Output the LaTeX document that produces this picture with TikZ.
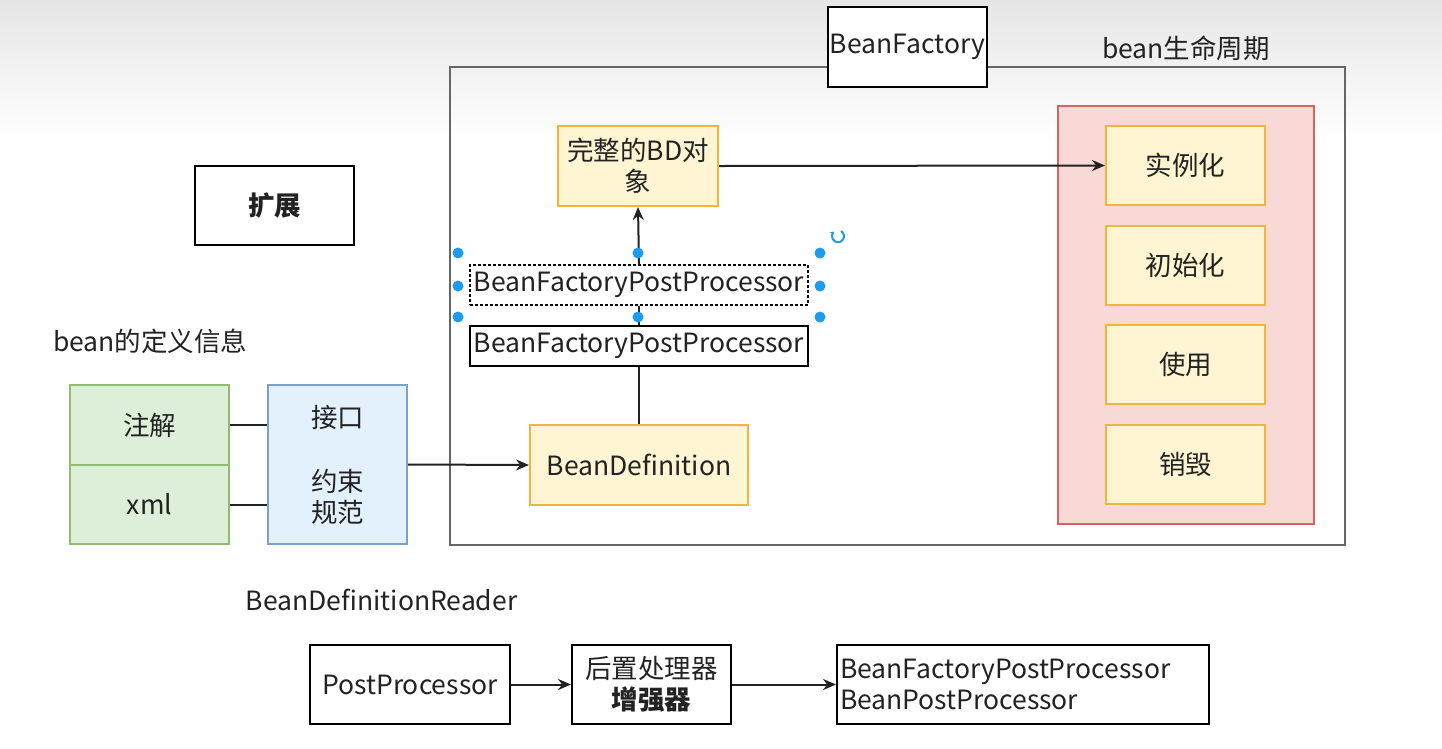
\documentclass[tikz,border=0pt]{standalone}
\usepackage{fontspec}
\setmainfont{Noto Sans CJK SC}
\usetikzlibrary{arrows.meta}
\definecolor{txt}{HTML}{222222}
\definecolor{yfill}{HTML}{FFF5D2}
\definecolor{ydraw}{HTML}{F2B43A}
\definecolor{pfill}{HTML}{F9D9D5}
\definecolor{pdraw}{HTML}{D66262}
\definecolor{gfill}{HTML}{DDEFD8}
\definecolor{gdraw}{HTML}{8FBC73}
\definecolor{bfill}{HTML}{E3F1FD}
\definecolor{bdraw}{HTML}{7A9FD0}
\definecolor{cgray}{HTML}{666666}
\definecolor{handle}{HTML}{1E9BEF}
\newcommand\fsA{\fontsize{26.5pt}{31pt}\selectfont}
\begin{document}
\begin{tikzpicture}[x=1pt,y=-1pt,
  box/.style={draw=black, line width=2pt, fill=white, inner sep=0pt, align=center, font=\fsA, text=txt},
  ybox/.style={box, draw=ydraw, fill=yfill},
  gbox/.style={box, draw=gdraw, fill=gfill},
  bbox/.style={box, draw=bdraw, fill=bfill},
  lbl/.style={font=\fsA, text=txt, inner sep=0pt},
  arr/.style={-{Stealth[length=13pt,width=11pt]}, line width=2pt, draw=txt},
  con/.style={line width=2pt, draw=txt},
  hdl/.style={circle, fill=handle, inner sep=0pt, minimum size=11pt}
]
\useasboundingbox (0,0) rectangle (1442,748);
\shade[top color=black!10, bottom color=white] (0,0) rectangle (1442,140);

% big BeanFactory container
\node[draw=cgray, line width=2pt, minimum width=895pt, minimum height=478pt, inner sep=0pt] (cont) at (897.5,306) {};
\node[box, minimum width=159pt, minimum height=80pt] (bf) at (907.5,47) {BeanFactory};
\node[lbl] (lifelbl) at (1186,48) {bean生命周期};

% lifecycle
\node[draw=pdraw, fill=pfill, line width=1.5pt, minimum width=256pt, minimum height=418pt, inner sep=0pt] (life) at (1186,315) {};
\node[ybox, minimum width=159pt, minimum height=79pt] (inst) at (1185.5,165.5) {实例化};
\node[ybox, minimum width=159pt, minimum height=79pt] (init) at (1185.5,265.5) {初始化};
\node[ybox, minimum width=159pt, minimum height=79pt] (use) at (1185.5,364.5) {使用};
\node[ybox, minimum width=159pt, minimum height=79pt] (dest) at (1185.5,464.5) {销毁};

% center column
\node[ybox, minimum width=160pt, minimum height=80pt] (full) at (638,166) {完整的BD对\\象};
\node[box, dashed, line width=1.5pt, dash pattern=on 3pt off 2pt, minimum width=338pt, minimum height=40pt] (bfpp1) at (639,285) {BeanFactoryPostProcessor};
\node[box, minimum width=338pt, minimum height=40pt] (bfpp2) at (639,346) {BeanFactoryPostProcessor};
\node[ybox, minimum width=218pt, minimum height=80pt] (bd) at (639,465) {BeanDefinition};

\draw[con] (bd.north) -- (bfpp2.south);
\draw[con] (bfpp2.north) -- (bfpp1.south);
\draw[arr] (bfpp1.north) -- (full.south);
\draw[arr] (full.east) -- (inst.west);

% selection handles
\foreach \hx/\hy [count=\i] in {458/253, 638/253, 820/253, 458/286, 820/286, 458/317, 638/317, 820/317}
  \node[hdl] (h\i) at (\hx,\hy) {};
\draw[handle, line width=2pt, -{Stealth[length=4pt,width=5pt]}] (841,231) arc[start angle=60, end angle=-230, radius=6pt];

% left side
\node[box, minimum width=159pt, minimum height=79pt, font=\fsA\bfseries] (ext) at (274.5,205.5) {扩展};
\node[lbl, anchor=west] (deflbl) at (53,341) {bean的定义信息};
\node[gbox, minimum width=159pt, minimum height=80pt] (anno) at (149.5,425) {注解};
\node[gbox, minimum width=159pt, minimum height=79pt] (xml) at (149.5,504.5) {xml};
\node[bbox, minimum width=139pt, minimum height=159pt] (iface) at (337.5,464.5) {接口\\[33pt]约束\\规范};
\draw[con] (anno.east) -- (anno.east -| iface.west);
\draw[con] (xml.east) -- (xml.east -| iface.west);
\draw[arr] (iface.east) -- (bd.west);
\node[lbl] (reader) at (381.5,600) {BeanDefinitionReader};

% bottom row
\node[box, minimum width=200pt, minimum height=79pt] (pp) at (410,684.5) {PostProcessor};
\node[box, minimum width=159pt, minimum height=79pt] (enh) at (651.5,684.5) {后置处理器\\\textbf{增强器}};
\node[box, minimum width=372pt, minimum height=79pt, text width=366pt, align=left, inner sep=0pt] (kinds) at (1023,684.5) {BeanFactoryPostProcessor\\BeanPostProcessor};
\draw[arr] (pp.east) -- (enh.west);
\draw[arr] (enh.east) -- (kinds.west);
\end{tikzpicture}
\end{document}
